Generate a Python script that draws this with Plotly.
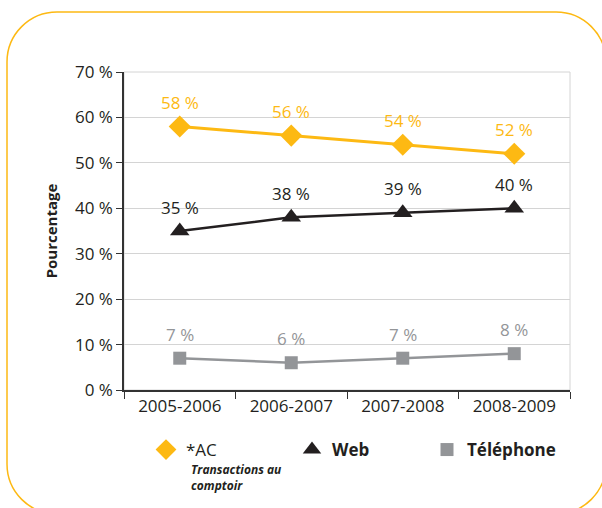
import plotly.graph_objects as go

# Academic years and share of transactions per channel (%)
years = ["2005-2006", "2006-2007", "2007-2008", "2008-2009"]
comptoir = [58, 56, 54, 52]
web = [35, 38, 39, 40]
telephone = [7, 6, 7, 8]

y_ticks = [0, 10, 20, 30, 40, 50, 60, 70]
y_tick_text = ["0 %", "10 %", "20 %", "30 %", "40 %", "50 %", "60 %", "70 %"]

ORANGE = "#FDB913"
BLACK = "#231F20"
GREY = "#939598"
FONT = "Open Sans"

W, H = 602, 508
L, R, T, B = 124, 570, 72, 390  # plot area in pixels


def px(x):
    return (x - L) / (R - L)


def py(y):
    return (B - y) / (B - T)


# name, values, colour, symbol, marker size, line width, legend id, legend x (px)
series = [
    ("*AC", comptoir, ORANGE, "diamond", 17, 3, "legend", 146),
    ("<b>Web</b>", web, BLACK, "triangle-up", 17, 2.5, "legend2", 292),
    ("<b>Téléphone</b>", telephone, GREY, "square", 13, 2.5, "legend3", 427),
]

fig = go.Figure()
for name, vals, color, symbol, size, lw, lg, lx in series:
    fig.add_trace(go.Scatter(
        x=years, y=vals, mode="lines", line=dict(color=color, width=lw),
        showlegend=False, hoverinfo="skip"))
for name, vals, color, symbol, size, lw, lg, lx in series:
    fig.add_trace(go.Scatter(
        x=years, y=vals, mode="markers", name=name, legend=lg,
        marker=dict(color=color, symbol=symbol, size=size, line=dict(width=0))))

# value labels above each point
annotations = []
for name, vals, color, symbol, size, lw, lg, lx in series:
    for yr, v in zip(years, vals):
        annotations.append(dict(
            x=yr, y=v, xref="x", yref="y", text=f"{v} %", showarrow=False,
            yshift=24, font=dict(family=FONT, size=17, color=color)))

# explanatory subtitle under the "*AC" legend entry
annotations.append(dict(
    x=px(189), y=py(459), xref="paper", yref="paper", xanchor="left", yanchor="top",
    align="left", showarrow=False, text="<b><i>Transactions au<br>comptoir</i></b>",
    font=dict(family=FONT, size=12, color=BLACK)))

# rounded frame around the whole chart
x0, y0, x1, y1, r = 7, 12, 606, 514, 50
k = 0.5523 * r
pts = [
    ("M", [(x0 + r, y0)]),
    ("L", [(x1 - r, y0)]),
    ("C", [(x1 - r + k, y0), (x1, y0 + r - k), (x1, y0 + r)]),
    ("L", [(x1, y1 - r)]),
    ("C", [(x1, y1 - r + k), (x1 - r + k, y1), (x1 - r, y1)]),
    ("L", [(x0 + r, y1)]),
    ("C", [(x0 + r - k, y1), (x0, y1 - r + k), (x0, y1 - r)]),
    ("L", [(x0, y0 + r)]),
    ("C", [(x0, y0 + r - k), (x0 + r - k, y0), (x0 + r, y0)]),
]
path = " ".join(cmd + " " + " ".join(f"{px(a):.5f},{py(b):.5f}" for a, b in p) for cmd, p in pts) + " Z"

shapes = [
    dict(type="path", path=path, xref="paper", yref="paper",
         line=dict(color=ORANGE, width=1.5), fillcolor="rgba(0,0,0,0)", layer="below"),
    dict(type="rect", x0=0, x1=1, y0=0, y1=1, xref="paper", yref="paper",
         line=dict(color="#D4D4D4", width=1), layer="below"),
]


def legend_at(xpix):
    return dict(x=px(xpix), y=py(432), xanchor="left", yanchor="top",
                orientation="h", bgcolor="rgba(0,0,0,0)",
                font=dict(family=FONT, size=17, color=BLACK))


layout_legends = {lg: legend_at(lx) for *_, lg, lx in series}

fig.update_layout(
    width=W, height=H,
    margin=dict(l=L, r=W - R, t=T, b=H - B, autoexpand=False),
    paper_bgcolor="white", plot_bgcolor="white",
    font=dict(family=FONT, size=17, color=BLACK),
    shapes=shapes, annotations=annotations,
    xaxis=dict(type="category", range=[-0.5, 3.5], showgrid=False,
               showline=True, linecolor="#333333", linewidth=1.5,
               ticks="outside", tickson="boundaries", ticklen=7, tickcolor="#333333",
               tickfont=dict(family=FONT, size=17, color=BLACK)),
    yaxis=dict(range=[0, 70], tickvals=y_ticks, ticktext=y_tick_text,
               showgrid=True, gridcolor="#D4D4D4", gridwidth=1,
               showline=True, linecolor="#333333", linewidth=1.5,
               ticks="outside", ticklen=6, tickcolor="#333333",
               tickfont=dict(family=FONT, size=17, color=BLACK), zeroline=False,
               title=dict(text="<b>Pourcentage</b>", standoff=14,
                          font=dict(family=FONT, size=15, color=BLACK))),
    **layout_legends,
)

fig.write_html("out.html")
